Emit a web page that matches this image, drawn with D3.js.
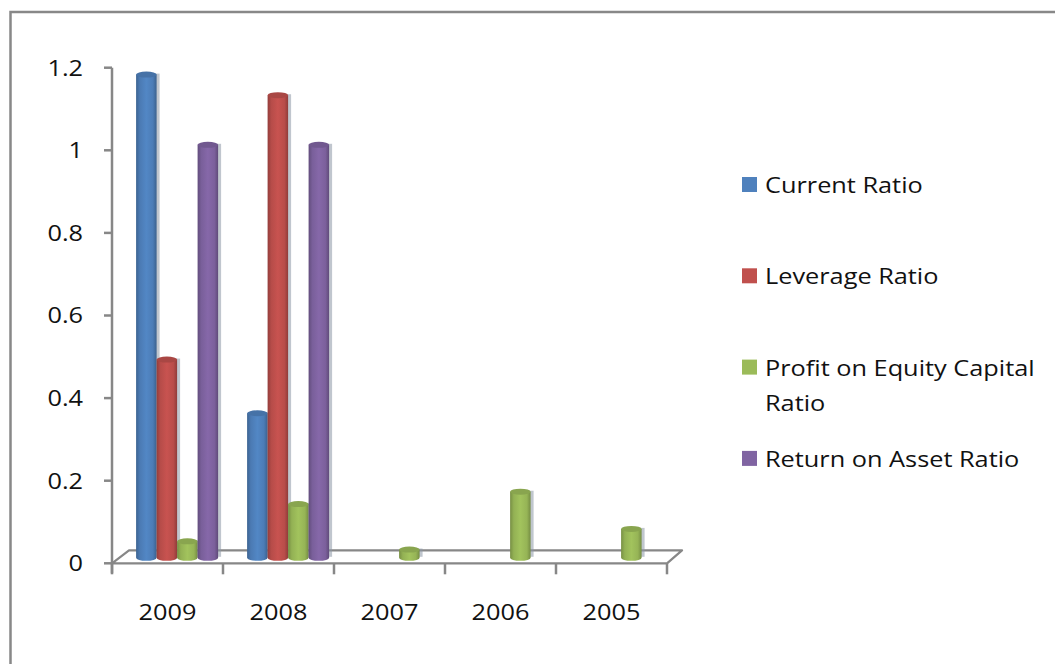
<!DOCTYPE html>
<html><head><meta charset="utf-8">
<script src="https://cdn.jsdelivr.net/npm/d3@7"></script>
<style>html,body{margin:0;padding:0;background:#fff;overflow:hidden}</style>
</head><body><svg id="c" width="1055" height="664"></svg>
<script>
const categories = ["2009","2008","2007","2006","2005"];
const seriesNames = ["Current Ratio","Leverage Ratio","Profit on Equity Capital Ratio","Return on Asset Ratio"];
const currentRatio   = [1.17, 0.35, 0, 0, 0];
const leverageRatio  = [0.48, 1.12, 0, 0, 0];
const profitOnEquity = [0.04, 0.13, 0.02, 0.16, 0.07];
const returnOnAsset  = [1.00, 1.00, 0, 0, 0];
const yTicks = [0, 0.2, 0.4, 0.6, 0.8, 1, 1.2];
const yTickLabels = ["0","0.2","0.4","0.6","0.8","1","1.2"];
const seriesColors = ["#4F81BD","#C0504D","#9BBB59","#8064A2"];

const seriesValues = [currentRatio, leverageRatio, profitOnEquity, returnOnAsset];

const svg = d3.select("#c");
const FONT = "'Open Sans', sans-serif";
const STRETCH = 1.15;
const axisColor = "#878787";

function stretch(sel){
  sel.each(function(){
    const l = this.getComputedTextLength();
    this.setAttribute("textLength", l*STRETCH);
    this.setAttribute("lengthAdjust","spacingAndGlyphs");
  });
}

// outer frame (extends past right/bottom edges)
svg.append("path").attr("d","M10.5,700 L10.5,12 L1080,12")
  .attr("fill","none").attr("stroke","#888").attr("stroke-width",2.5);

const x = d3.scaleBand().domain(categories).range([112, 667]);
const y = d3.scaleLinear().domain([0, 1.2]).range([563.3, 67.7]);
const depthX = 15, depthY = -13;   // floor depth
const barDX = 9.6, barDY = -5.5;   // bar plane shift
const barW = 20.5;

// defs: gradients
const defs = svg.append("defs");
seriesColors.forEach((c,i)=>{
  const g = defs.append("linearGradient").attr("id","g"+i).attr("x1","0").attr("x2","1").attr("y1","0").attr("y2","0");
  const col = d3.color(c);
  g.append("stop").attr("offset","0").attr("stop-color", col.darker(0.75));
  g.append("stop").attr("offset","0.18").attr("stop-color", col.darker(0.15));
  g.append("stop").attr("offset","0.5").attr("stop-color", col.brighter(0.12));
  g.append("stop").attr("offset","0.82").attr("stop-color", col.darker(0.1));
  g.append("stop").attr("offset","1").attr("stop-color", col.darker(0.8));
});

// floor
const y0 = y(0);
const xL = 112, xR = 667;
svg.append("path")
  .attr("d", `M${xL},${y0} L${xR},${y0} L${xR+depthX},${y0+depthY} L${xL+depthX+2},${y0+depthY} L${xL},${y0}`)
  .attr("fill","#fff").attr("stroke",axisColor).attr("stroke-width",2.2).attr("stroke-linejoin","round");

// y axis
svg.append("line").attr("x1",xL).attr("x2",xL).attr("y1",y(1.2)).attr("y2",y0+10)
  .attr("stroke",axisColor).attr("stroke-width",2.5);
svg.selectAll(".yt").data(yTicks).enter().append("line")
  .attr("x1",xL-8).attr("x2",xL).attr("y1",d=>y(d)).attr("y2",d=>y(d))
  .attr("stroke",axisColor).attr("stroke-width",2.5);
svg.selectAll(".yl").data(yTicks).enter().append("text")
  .attr("x",83).attr("y",d=>y(d)).attr("dy","0.36em").attr("text-anchor","end")
  .attr("font-family",FONT).attr("font-size",22).attr("fill","#111")
  .text((d,i)=>yTickLabels[i]).call(stretch);

// x ticks
const bounds = categories.map(c=>x(c)).concat([x.range()[1]]);
svg.selectAll(".xt").data(bounds).enter().append("line")
  .attr("x1",d=>d).attr("x2",d=>d).attr("y1",y0).attr("y2",y0+11)
  .attr("stroke",axisColor).attr("stroke-width",2.5);
svg.selectAll(".xl").data(categories).enter().append("text")
  .attr("x",d=>x(d)+x.bandwidth()/2).attr("y",620).attr("text-anchor","middle")
  .attr("font-family",FONT).attr("font-size",22).attr("fill","#111")
  .text(d=>d).call(stretch);

// bars
const bars = [];
categories.forEach((c,ci)=>{
  seriesValues.forEach((vals,si)=>{
    const v = vals[ci];
    if (v > 0) bars.push({c, si, v});
  });
});
const ry = 3;
const gBars = svg.append("g");
function bx(d){ return x(d.c) + (x.bandwidth() - 4*barW)/2 + d.si*barW + barDX; }
// shadows
gBars.selectAll(".sh").data(bars).enter().append("rect")
  .attr("x",d=>bx(d)+3).attr("y",d=>y(d.v)+barDY-1).attr("width",barW).attr("height",d=>y0-y(d.v))
  .attr("fill","#8d97a5").attr("opacity",0.55);
const bg = gBars.selectAll(".b").data(bars).enter().append("g");
bg.append("path").attr("d",d=>{
  const l = bx(d), r = l+barW, t = y(d.v)+barDY, b = y0+barDY;
  return `M${l},${t} L${l},${b} A${barW/2},${ry} 0 0 0 ${r},${b} L${r},${t} Z`;
}).attr("fill",d=>`url(#g${d.si})`);
bg.append("ellipse").attr("cx",d=>bx(d)+barW/2).attr("cy",d=>y(d.v)+barDY)
  .attr("rx",barW/2).attr("ry",ry)
  .attr("fill",d=>d3.color(seriesColors[d.si]).darker(0.35));

// legend
const legendX = 742, legendBase = 193, legendStep = 91.3, maxW = 285;
seriesNames.forEach((name,i)=>{
  const base = legendBase + i*legendStep;
  svg.append("rect").attr("x",legendX).attr("y",base-16).attr("width",15).attr("height",15)
    .attr("fill",seriesColors[i]);
  // wrap
  const words = name.split(" ");
  const lines = [];
  let cur = [];
  const t = svg.append("text").attr("font-family",FONT).attr("font-size",22).attr("x",-999).attr("y",-999);
  words.forEach(w=>{
    const trial = cur.concat([w]).join(" ");
    t.text(trial);
    if (t.node().getComputedTextLength()*STRETCH > maxW && cur.length){
      lines.push(cur.join(" ")); cur=[w];
    } else cur.push(w);
  });
  lines.push(cur.join(" "));
  t.remove();
  lines.forEach((ln,k)=>{
    svg.append("text").attr("x",765).attr("y",base + k*35)
      .attr("font-family",FONT).attr("font-size",22).attr("fill","#111")
      .text(ln).call(stretch);
  });
});
</script></body></html>
